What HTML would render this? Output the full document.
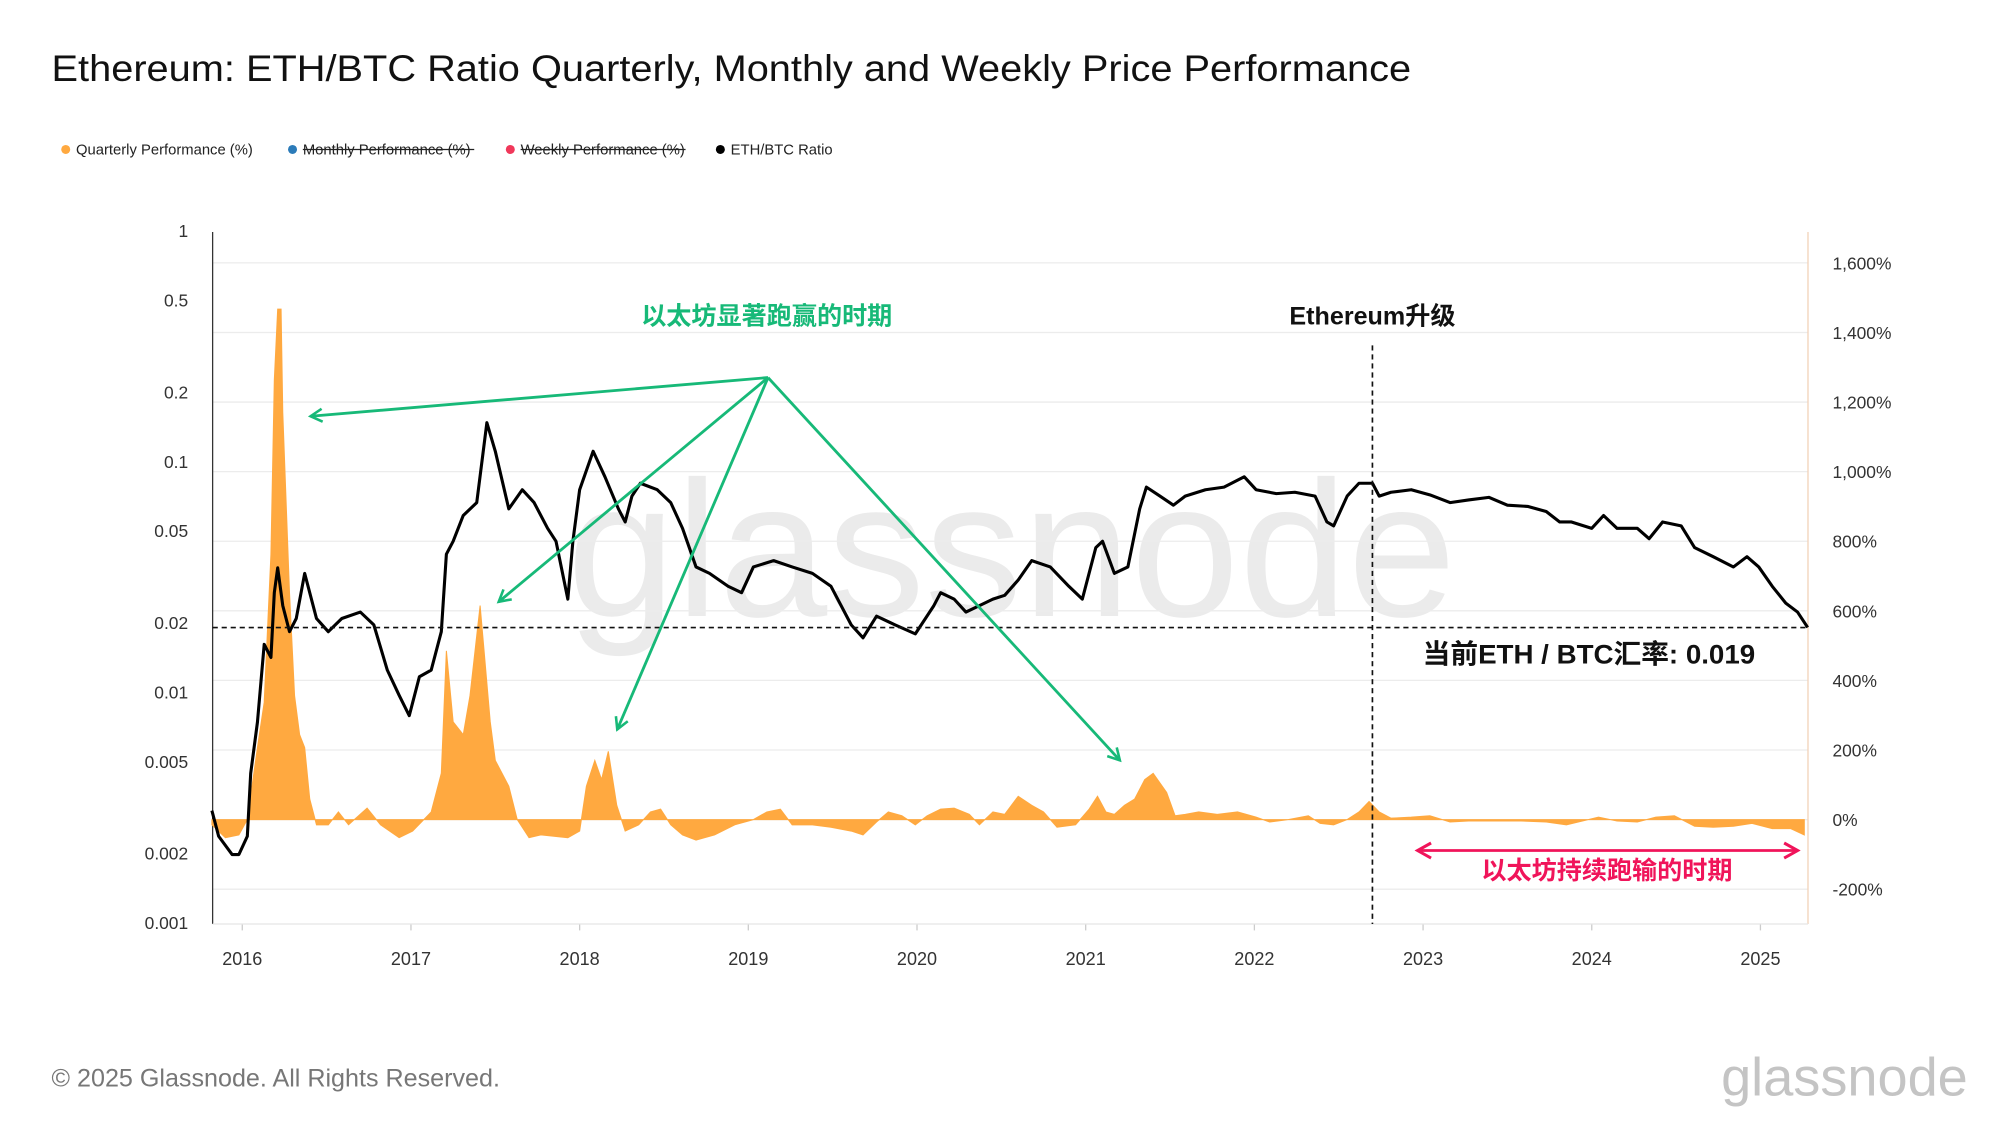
<!DOCTYPE html>
<html>
<head>
<meta charset="utf-8">
<style>
  html,body{margin:0;padding:0;background:#fff;}
  svg{display:block;}
  text{font-family:"Liberation Sans","Noto Sans CJK SC",sans-serif;}
</style>
</head>
<body>
<svg id="chart" width="2000" height="1125" viewBox="0 0 1552 873" xmlns="http://www.w3.org/2000/svg">
  <defs>
    <marker id="arrG" viewBox="0 0 12 12" refX="10" refY="6" markerWidth="12" markerHeight="12" markerUnits="userSpaceOnUse" orient="auto">
      <path d="M1,1 L10,6 L1,11" fill="none" stroke="#17b978" stroke-width="2"/>
    </marker>
    <marker id="arrP" viewBox="0 0 12 12" refX="10" refY="6" markerWidth="14" markerHeight="14" markerUnits="userSpaceOnUse" orient="auto-start-reverse">
      <path d="M1,1 L10,6 L1,11" fill="none" stroke="#f0145a" stroke-width="2"/>
    </marker>
  </defs>
  <rect width="1552" height="873" fill="#fff"/>

  <text x="40" y="63" font-size="29" fill="#111" textLength="1055" lengthAdjust="spacingAndGlyphs">Ethereum: ETH/BTC Ratio Quarterly, Monthly and Weekly Price Performance</text>

  <g font-size="11.5" fill="#222">
    <g><circle cx="51" cy="116" r="3.5" fill="#ffa940"/><text x="59" y="120">Quarterly Performance (%)</text></g>
    <g><circle cx="227" cy="116" r="3.5" fill="#2b7bb9"/><text x="235" y="120">Monthly Performance (%)</text><line x1="235" y1="116" x2="368" y2="116" stroke="#222" stroke-width="1"/></g>
    <g><circle cx="396" cy="116" r="3.5" fill="#f0385a"/><text x="404" y="120">Weekly Performance (%)</text><line x1="404" y1="116" x2="532" y2="116" stroke="#222" stroke-width="1"/></g>
    <g><circle cx="559" cy="116" r="3.5" fill="#000"/><text x="567" y="120">ETH/BTC Ratio</text></g>
  </g>

  <text x="440" y="478" font-size="150" fill="#ebebeb" textLength="690" lengthAdjust="spacingAndGlyphs">glassnode</text>

  <g id="grid"></g>
  <g id="axes"></g>
  <g id="series"></g>

  <line x1="165" y1="487" x2="1403" y2="487" stroke="#111" stroke-width="1.3" stroke-dasharray="4,3"/>
  <line x1="1065" y1="268" x2="1065" y2="717" stroke="#111" stroke-width="1.3" stroke-dasharray="4,3"/>

  <text x="595" y="252" font-size="19.5" font-weight="bold" fill="#17b978" text-anchor="middle">以太坊显著跑赢的时期</text>
  <g stroke="#17b978" stroke-width="2.2" fill="none">
    <line x1="596" y1="293" x2="241" y2="323" marker-end="url(#arrG)"/>
    <line x1="596" y1="293" x2="387" y2="467" marker-end="url(#arrG)"/>
    <line x1="596" y1="293" x2="479" y2="566" marker-end="url(#arrG)"/>
    <line x1="596" y1="293" x2="869" y2="590" marker-end="url(#arrG)"/>
  </g>
  <text x="1065" y="252" font-size="19.5" font-weight="bold" fill="#111" text-anchor="middle">Ethereum升级</text>
  <text x="1104" y="515" font-size="21" font-weight="bold" fill="#111" textLength="258" lengthAdjust="spacingAndGlyphs">当前ETH / BTC汇率: 0.019</text>
  <line x1="1100" y1="660" x2="1395" y2="660" stroke="#f0145a" stroke-width="2.2" marker-start="url(#arrP)" marker-end="url(#arrP)"/>
  <text x="1247" y="682" font-size="19.5" font-weight="bold" fill="#f0145a" text-anchor="middle">以太坊持续跑输的时期</text>

  <text x="40" y="843" font-size="19.5" fill="#777">© 2025 Glassnode. All Rights Reserved.</text>
  <text x="1527" y="850" font-size="42" fill="#c4c4c4" text-anchor="end">glassnode</text>
</svg>
<script>
// ETH/BTC ratio (decimal year, ratio)
const ratioDates = [2015.82,2015.86,2015.94,2015.98,2016.03,2016.05,2016.09,2016.13,2016.17,2016.19,2016.21,2016.24,2016.28,2016.32,2016.37,2016.44,2016.51,2016.59,2016.70,2016.78,2016.86,2016.93,2016.99,2017.05,2017.12,2017.18,2017.21,2017.25,2017.31,2017.39,2017.45,2017.50,2017.58,2017.66,2017.73,2017.81,2017.86,2017.93,2017.96,2018.00,2018.08,2018.15,2018.23,2018.27,2018.31,2018.36,2018.46,2018.54,2018.61,2018.69,2018.77,2018.88,2018.96,2019.03,2019.15,2019.26,2019.38,2019.49,2019.61,2019.68,2019.76,2019.87,2019.99,2020.10,2020.14,2020.22,2020.29,2020.37,2020.45,2020.52,2020.60,2020.68,2020.79,2020.90,2020.98,2021.06,2021.10,2021.17,2021.25,2021.32,2021.36,2021.44,2021.52,2021.59,2021.71,2021.82,2021.94,2022.01,2022.13,2022.24,2022.36,2022.43,2022.47,2022.55,2022.62,2022.70,2022.74,2022.81,2022.93,2023.04,2023.16,2023.27,2023.39,2023.50,2023.62,2023.73,2023.81,2023.88,2024.00,2024.07,2024.15,2024.27,2024.34,2024.42,2024.53,2024.61,2024.72,2024.84,2024.92,2024.99,2025.07,2025.15,2025.22,2025.28];
const ratioValues = [0.0031,0.0024,0.0020,0.0020,0.0024,0.0045,0.0075,0.0163,0.0143,0.0273,0.0350,0.0240,0.0185,0.0211,0.0331,0.0211,0.0185,0.0211,0.0225,0.0198,0.0126,0.0098,0.0080,0.0118,0.0126,0.0185,0.0401,0.0456,0.0590,0.0671,0.1490,0.1120,0.0630,0.0763,0.0671,0.0519,0.0456,0.0256,0.0456,0.0763,0.1120,0.0868,0.0630,0.0553,0.0716,0.0814,0.0763,0.0671,0.0519,0.0353,0.0331,0.0291,0.0273,0.0353,0.0376,0.0353,0.0331,0.0291,0.0198,0.0174,0.0216,0.0198,0.0181,0.0240,0.0273,0.0256,0.0225,0.0240,0.0256,0.0266,0.0310,0.0376,0.0353,0.0291,0.0256,0.0428,0.0456,0.0331,0.0353,0.0630,0.0783,0.0716,0.0654,0.0716,0.0763,0.0783,0.0868,0.0763,0.0734,0.0744,0.0716,0.0553,0.0532,0.0716,0.0814,0.0814,0.0716,0.0744,0.0763,0.0725,0.0671,0.0689,0.0707,0.0654,0.0646,0.0614,0.0553,0.0553,0.0519,0.0590,0.0519,0.0519,0.0468,0.0553,0.0532,0.0428,0.0391,0.0353,0.0391,0.0353,0.0291,0.0246,0.0225,0.0193];
// Quarterly performance (decimal year, %)
const perfDates = [2015.82,2015.90,2015.98,2016.03,2016.09,2016.13,2016.17,2016.19,2016.21,2016.23,2016.24,2016.28,2016.31,2016.34,2016.37,2016.40,2016.44,2016.51,2016.57,2016.63,2016.74,2016.82,2016.93,2017.01,2017.12,2017.18,2017.21,2017.25,2017.31,2017.35,2017.41,2017.43,2017.47,2017.50,2017.58,2017.63,2017.70,2017.77,2017.93,2018.00,2018.04,2018.09,2018.13,2018.17,2018.22,2018.27,2018.35,2018.42,2018.48,2018.54,2018.61,2018.69,2018.80,2018.92,2019.03,2019.11,2019.19,2019.26,2019.38,2019.49,2019.61,2019.68,2019.76,2019.83,2019.91,2019.99,2020.06,2020.14,2020.22,2020.31,2020.37,2020.45,2020.52,2020.60,2020.68,2020.75,2020.83,2020.94,2021.02,2021.07,2021.12,2021.17,2021.23,2021.29,2021.35,2021.40,2021.48,2021.53,2021.59,2021.67,2021.78,2021.90,2022.01,2022.09,2022.20,2022.32,2022.39,2022.47,2022.55,2022.62,2022.68,2022.74,2022.81,2022.93,2023.04,2023.16,2023.27,2023.43,2023.58,2023.73,2023.85,2023.92,2024.04,2024.15,2024.27,2024.38,2024.49,2024.61,2024.72,2024.84,2024.95,2025.07,2025.18,2025.26];
const perfValues = [-15,-52,-44,0,207,337,763,1263,1467,1467,1170,652,356,244,207,59,-15,-15,22,-15,33,-15,-52,-33,22,133,485,281,244,356,615,504,281,170,96,0,-52,-44,-52,-33,96,170,115,196,41,-33,-15,22,30,-15,-44,-59,-44,-15,0,22,30,-15,-15,-22,-33,-44,-7,22,11,-15,11,30,33,15,-15,22,15,67,41,22,-22,-15,30,67,22,15,41,59,115,133,78,11,15,22,15,22,7,-7,0,11,-11,-15,0,22,52,22,4,7,11,-7,-4,-4,-4,-7,-15,-7,7,-4,-7,7,11,-19,-22,-19,-11,-26,-26,-44];
const leftTicks = [1,0.5,0.2,0.1,0.05,0.02,0.01,0.005,0.002,0.001];
const leftTickLabels = ["1","0.5","0.2","0.1","0.05","0.02","0.01","0.005","0.002","0.001"];
const rightTicks = [1600,1400,1200,1000,800,600,400,200,0,-200];
const rightTickLabels = ["1,600%","1,400%","1,200%","1,000%","800%","600%","400%","200%","0%","-200%"];
const yearTicks = [2016,2017,2018,2019,2020,2021,2022,2023,2024,2025];

const PL=165, PR=1403, PT=180, PB=717;
function xOf(yr){ return 188 + (yr-2016)*130.9; }
function yL(v){ return 180 - 179*Math.log10(v); }
function yR(p){ return 636 - p*0.27; }
const NS="http://www.w3.org/2000/svg";
function mk(tag, attrs, parent, txt){
  const e=document.createElementNS(NS,tag);
  for(const k in attrs) e.setAttribute(k,attrs[k]);
  if(txt!==undefined) e.textContent=txt;
  parent.appendChild(e); return e;
}
const grid=document.getElementById('grid'), axes=document.getElementById('axes'), series=document.getElementById('series');

rightTicks.forEach((t,i)=>{
  const y=yR(t);
  const g=mk('line',{x1:PL,x2:PR,y1:y,y2:y,stroke:'#ececec','stroke-width':1},grid);
  
  
  const lab=mk('text',{x:1422,y:y+5,'font-size':13.5,fill:'#333'},axes,rightTickLabels[i]);
  
  
});
leftTicks.forEach((t,i)=>{
  const lab=mk('text',{x:146,y:yL(t)+4,'font-size':13.5,fill:'#333','text-anchor':'end'},axes,leftTickLabels[i]);
  
  
});
yearTicks.forEach(yr=>{
  const x=xOf(yr);
  const tk=mk('line',{x1:x,x2:x,y1:PB,y2:PB+5,stroke:'#ccc','stroke-width':1},axes);
  
  
  const lab=mk('text',{x:x,y:749,'font-size':14,fill:'#333','text-anchor':'middle'},axes,String(yr));
  
  
});
const la=mk('line',{x1:PL,x2:PL,y1:PT,y2:PB,stroke:'#333','stroke-width':1},axes);


const ra=mk('line',{x1:PR,x2:PR,y1:PT,y2:PB,stroke:'#f2d2b8','stroke-width':1},axes);


const ba=mk('line',{x1:PL,x2:PR,y1:PB,y2:PB,stroke:'#e5e5e5','stroke-width':1},axes);



// Quarterly performance area
let d='M'+xOf(perfDates[0]).toFixed(2)+','+yR(0).toFixed(2);
perfDates.forEach((t,i)=>{ d+=' L'+xOf(t).toFixed(2)+','+yR(perfValues[i]).toFixed(2); });
d+=' L'+xOf(perfDates[perfDates.length-1]).toFixed(2)+','+yR(0).toFixed(2)+' Z';
const area=mk('path',{d:d,fill:'#ffa940',stroke:'#ffa940','stroke-width':0.8},series);



// ETH/BTC ratio line
let d2='';
ratioDates.forEach((t,i)=>{ d2+=(i?' L':'M')+xOf(t).toFixed(2)+','+yL(ratioValues[i]).toFixed(2); });
const line=mk('path',{d:d2,fill:'none',stroke:'#000','stroke-width':2.4,'stroke-linejoin':'round'},series);


</script>
</body>
</html>
